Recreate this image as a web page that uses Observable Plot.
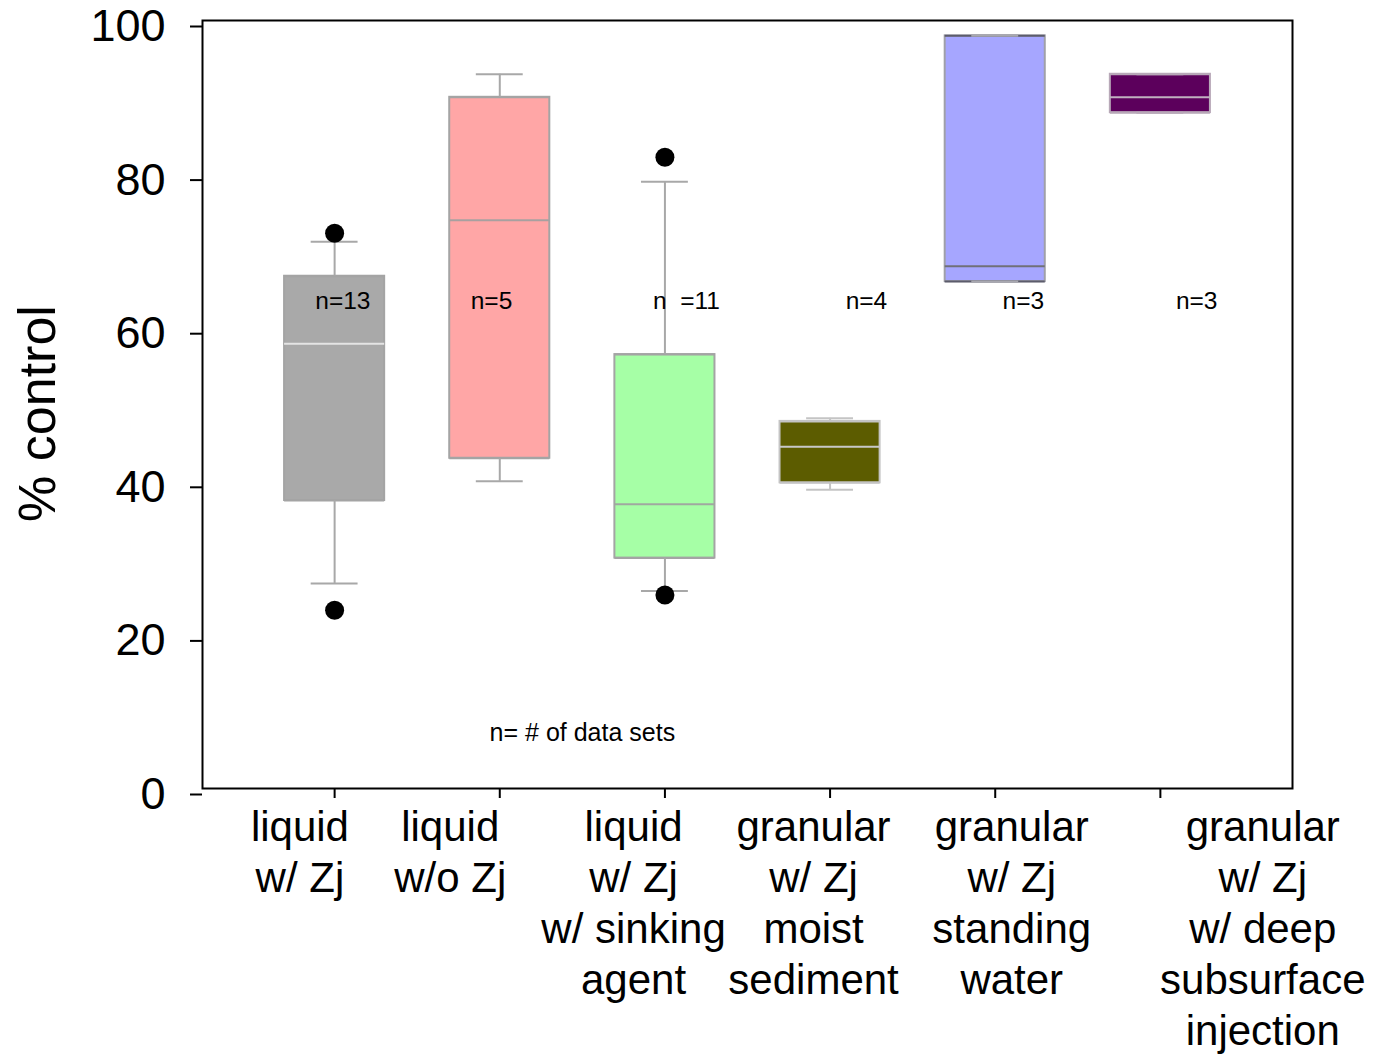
<!DOCTYPE html>
<html>
<head>
<meta charset="utf-8">
<script src="https://cdn.jsdelivr.net/npm/d3@7"></script>
<script src="https://cdn.jsdelivr.net/npm/@observablehq/plot@0.6"></script>
<style>
  html, body { margin: 0; padding: 0; background: #fff; }
  svg { font-family: "Liberation Sans", Arial, sans-serif; }
</style>
</head>
<body>
<div id="chart"></div>
<script>
// ---- data ----
const categories = [
  "liquid\nw/ Zj",
  "liquid\nw/o Zj",
  "liquid\nw/ Zj\nw/ sinking\nagent",
  "granular\nw/ Zj\nmoist\nsediment",
  "granular\nw/ Zj\nstanding\nwater",
  "granular\nw/ Zj\nw/ deep\nsubsurface\ninjection"
];
const q1          = [37.5, 43.0, 30.0, 39.8, 66.0, 88.0];
const median      = [57.9, 74.0, 37.0, 44.5, 68.0, 90.0];
const q3          = [66.7, 90.0, 56.5, 47.8, 98.0, 93.0];
const whiskerLow  = [26.7, 40.0, 25.7, 38.9, 66.0, 88.0];
const whiskerHigh = [71.2, 93.0, 79.0, 48.2, 98.0, 93.0];
const outlierGroup = [0, 0, 2, 2];
const outlierValue = [72.3, 23.2, 82.2, 25.2];
const nLabels = ["n=13", "n=5", "n\u00a0\u00a0=11", "n=4", "n=3", "n=3"];
const nLabelValue = 63.4;
const noteText = "n= # of data sets";
const noteValue = 7.2;
const yTicks = [0, 20, 40, 60, 80, 100];
const yLabel = "% control";

// ---- styles / layout ----
const boxFill     = ["#a9a9a9", "#ffa6a6", "#a6ffa6", "#5c5c00", "#a6a6ff", "#5c005c"];
const boxStroke   = ["#a4a4a4", "#a4a4a4", "#a4a4a4", "#c4c4c4", "#a0a0a8", "#b8a8b8"];
const edgeStroke  = ["#a4a4a4", "#a4a4a4", "#a4a4a4", "#c4c4c4", "#5c5c6c", "#b8a8b8"];
const medStroke   = ["#e4e4e4", "#a8a0a0", "#a0a8a0", "#c8c8c8", "#707078", "#c0b0c0"];
const whiskStroke = ["#a8a8a8", "#a8a8a8", "#a8a8a8", "#c4c4c4", "#a8a8b0", "#b8a8b8"];
const labelShift = [-0.21, -0.30, -0.19, -0.10, 0.10, 0.62];
const nShift     = [0.05, -0.05, 0.13, 0.22, 0.17, 0.22];
const halfBox = 0.303, halfCap = 0.142;

const idx = categories.map((_, i) => i);
const boxes = idx.map(i => ({
  i, q1: q1[i], med: median[i], q3: q3[i], lo: whiskerLow[i], hi: whiskerHigh[i],
  fill: boxFill[i], stroke: boxStroke[i], edge: edgeStroke[i], medStroke: medStroke[i], whisk: whiskStroke[i]
}));
const outliers = outlierGroup.map((g, k) => ({ i: g, v: outlierValue[k] }));

const chart = Plot.plot({
  width: 1374,
  height: 1055,
  marginLeft: 202,
  marginRight: 82,
  marginTop: 20,
  marginBottom: 267,
  style: { fontFamily: "'Liberation Sans', Arial, sans-serif", background: "#fff", color: "#000" },
  x: { type: "linear", domain: [-0.8, 5.8], axis: null },
  y: { domain: [0, 100], axis: null },
  color: { type: "identity" },
  marks: [
    // boxes
    Plot.rect(boxes, { x1: d => d.i - halfBox, x2: d => d.i + halfBox, y1: "q1", y2: "q3",
      fill: "fill", stroke: "stroke", strokeWidth: 2 }),
    Plot.ruleY(boxes, { y: "q3", x1: d => d.i - halfBox, x2: d => d.i + halfBox, stroke: "edge", strokeWidth: 2 }),
    Plot.ruleY(boxes, { y: "q1", x1: d => d.i - halfBox, x2: d => d.i + halfBox, stroke: "edge", strokeWidth: 2 }),
    // whiskers
    Plot.ruleX(boxes, { x: "i", y1: "q3", y2: "hi", stroke: "whisk", strokeWidth: 2 }),
    Plot.ruleX(boxes, { x: "i", y1: "q1", y2: "lo", stroke: "whisk", strokeWidth: 2 }),
    Plot.ruleY(boxes, { y: "hi", x1: d => d.i - halfCap, x2: d => d.i + halfCap, stroke: "whisk", strokeWidth: 2 }),
    Plot.ruleY(boxes, { y: "lo", x1: d => d.i - halfCap, x2: d => d.i + halfCap, stroke: "whisk", strokeWidth: 2 }),
    // medians
    Plot.ruleY(boxes, { y: "med", x1: d => d.i - halfBox, x2: d => d.i + halfBox, stroke: "medStroke", strokeWidth: 2 }),
    // outliers
    Plot.dot(outliers, { x: "i", y: "v", r: 9.5, fill: "black", stroke: "none" }),
    // n labels
    Plot.text(idx, { x: i => i + nShift[i], y: () => nLabelValue, text: i => nLabels[i], fontSize: 24.5, fill: "black" }),
    Plot.text([noteText], { x: () => 1.5, y: () => noteValue, text: d => d, fontSize: 25, fill: "black" }),
    // y axis
    Plot.axisY(yTicks, { tickSize: 12, tickPadding: 25, fontSize: 45, dy: 6, stroke: "black", strokeWidth: 2, label: null }),
    // x ticks
    Plot.axisX(idx, { tickSize: 10, tickFormat: () => "", stroke: "black", strokeWidth: 2, label: null }),
    // x labels
    Plot.text(idx, { x: i => i + labelShift[i], y: () => 0, text: i => categories[i], lineAnchor: "top",
      dy: 16, fontSize: 42, lineHeight: 1.215, fill: "black" }),
    // y label
    Plot.text([yLabel], { frameAnchor: "left", textAnchor: "middle", text: d => d, rotate: -90,
      dx: -164, dy: 9, fontSize: 52, fill: "black" }),
    // frame
    Plot.frame({ stroke: "black", strokeWidth: 2 })
  ]
});
document.getElementById("chart").appendChild(chart);
</script>
</body>
</html>
